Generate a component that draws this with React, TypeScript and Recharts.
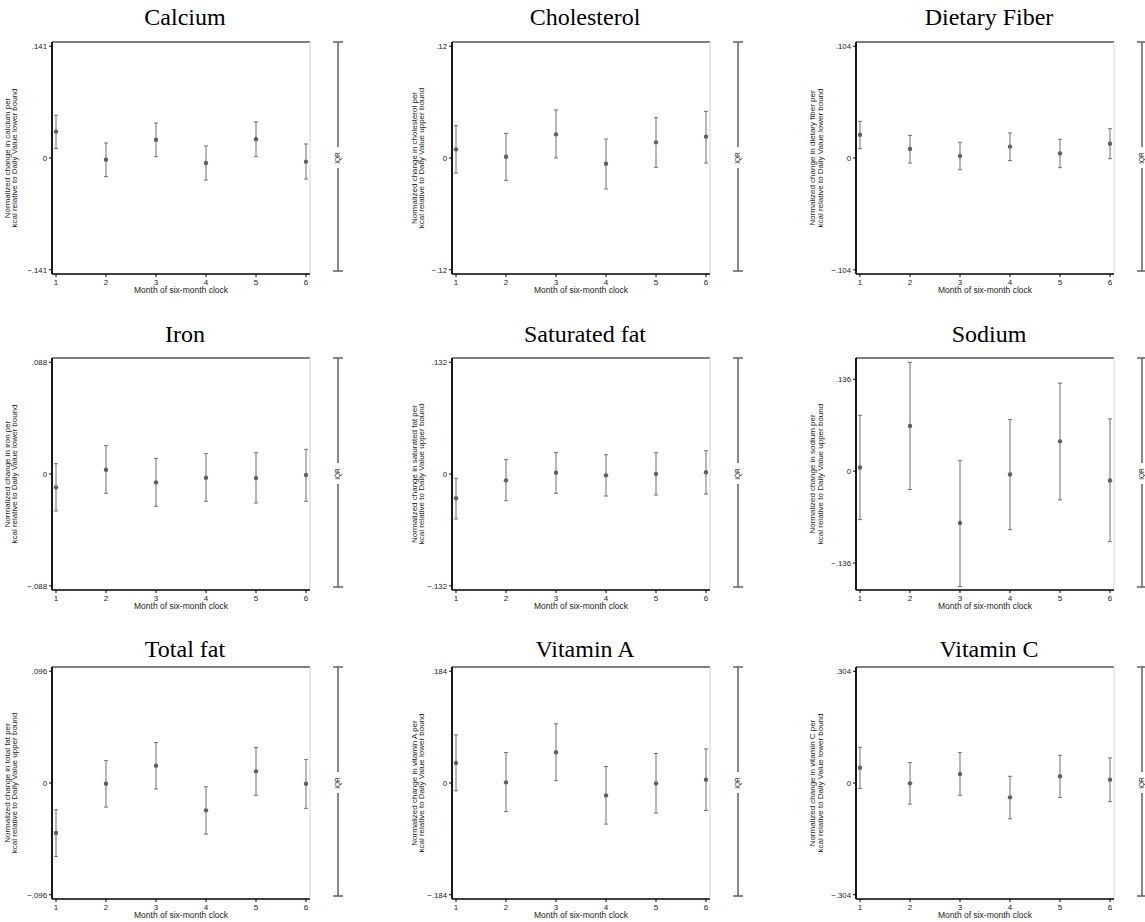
import { ScatterChart, Scatter, ErrorBar, XAxis, YAxis, ReferenceLine, Label } from 'recharts'

const MONTHS = [1, 2, 3, 4, 5, 6]

const TITLES = ['Calcium', 'Cholesterol', 'Dietary Fiber', 'Iron', 'Saturated fat', 'Sodium', 'Total fat', 'Vitamin A', 'Vitamin C']
const NUTRIENT_WORDS = ['calcium', 'cholesterol', 'dietary fiber', 'iron', 'saturated fat', 'sodium', 'total fat', 'vitamin A', 'vitamin C']
const BOUNDS = ['lower', 'upper', 'lower', 'lower', 'upper', 'upper', 'upper', 'lower', 'lower']
const TICK_MAX = [0.141, 0.12, 0.104, 0.088, 0.132, 0.136, 0.096, 0.184, 0.304]

const CALCIUM_EST = [0.0333, -0.0021, 0.0231, -0.0063, 0.0236, -0.0046]
const CALCIUM_LO = [0.0122, -0.0236, 0.0017, -0.0278, 0.0017, -0.0265]
const CALCIUM_HI = [0.0539, 0.0189, 0.0442, 0.0152, 0.0455, 0.0177]

const CHOLESTEROL_EST = [0.0093, 0.0014, 0.0254, -0.0061, 0.0168, 0.0229]
const CHOLESTEROL_LO = [-0.0161, -0.024, 0.0, -0.0333, -0.01, -0.0054]
const CHOLESTEROL_HI = [0.0347, 0.0265, 0.0516, 0.0204, 0.0433, 0.0501]

const FIBER_EST = [0.0217, 0.0084, 0.0019, 0.0106, 0.0043, 0.0133]
const FIBER_LO = [0.0087, -0.0047, -0.0109, -0.0025, -0.009, -0.0006]
const FIBER_HI = [0.0341, 0.0211, 0.0146, 0.0233, 0.0174, 0.0273]

const IRON_EST = [-0.0105, 0.0034, -0.0066, -0.0029, -0.0031, -0.0008]
const IRON_LO = [-0.0291, -0.0152, -0.0254, -0.0215, -0.0228, -0.0215]
const IRON_HI = [0.0081, 0.0223, 0.0123, 0.016, 0.0168, 0.0194]

const SATFAT_EST = [-0.0287, -0.0075, 0.0016, -0.0016, 0.0, 0.002]
const SATFAT_LO = [-0.0531, -0.0315, -0.0228, -0.026, -0.0248, -0.0236]
const SATFAT_HI = [-0.0051, 0.0169, 0.0252, 0.0228, 0.0252, 0.0275]

const SODIUM_EST = [0.0054, 0.0669, -0.0768, -0.005, 0.0441, -0.0139]
const SODIUM_LO = [-0.0718, -0.0272, -0.1709, -0.0867, -0.0426, -0.1045]
const SODIUM_HI = [0.0827, 0.161, 0.0159, 0.0763, 0.1303, 0.0773]

const TOTFAT_EST = [-0.043, -0.0006, 0.0149, -0.0235, 0.01, -0.0006]
const TOTFAT_LO = [-0.0631, -0.0207, -0.0052, -0.0439, -0.0106, -0.0218]
const TOTFAT_HI = [-0.023, 0.0192, 0.0347, -0.0032, 0.0304, 0.0201]

const VITA_EST = [0.033, 0.0011, 0.0506, -0.0204, -0.0006, 0.0055]
const VITA_LO = [-0.0127, -0.0473, 0.0039, -0.0677, -0.0495, -0.0451]
const VITA_HI = [0.0792, 0.0501, 0.0974, 0.027, 0.0484, 0.0561]

const VITC_EST = [0.0418, -0.0009, 0.0245, -0.0391, 0.0182, 0.0091]
const VITC_LO = [-0.0145, -0.0573, -0.0336, -0.0972, -0.0391, -0.0509]
const VITC_HI = [0.0972, 0.0554, 0.0827, 0.0182, 0.0754, 0.0682]

const SERIES = [
  [CALCIUM_EST, CALCIUM_LO, CALCIUM_HI],
  [CHOLESTEROL_EST, CHOLESTEROL_LO, CHOLESTEROL_HI],
  [FIBER_EST, FIBER_LO, FIBER_HI],
  [IRON_EST, IRON_LO, IRON_HI],
  [SATFAT_EST, SATFAT_LO, SATFAT_HI],
  [SODIUM_EST, SODIUM_LO, SODIUM_HI],
  [TOTFAT_EST, TOTFAT_LO, TOTFAT_HI],
  [VITA_EST, VITA_LO, VITA_HI],
  [VITC_EST, VITC_LO, VITC_HI],
]

// layout (px)
const COL_PLOT_LEFT = [52, 452, 856]
const ROW_PLOT_TOP = [42, 358, 667]
const TITLE_BASE = [25, 342, 657]
const YLAB_OFF = [[-42.5, -35], [-35.5, -28], [-41, -33.5]]
const PLOT_W = 258
const PLOT_H = 232
const YAX_W = 52
const XAX_H = 26
const M = { top: 4, right: 4, bottom: 0, left: 0 }

const SANS = '"Liberation Sans", Arial, Helvetica, sans-serif'
const SERIF = '"Liberation Serif", "Times New Roman", serif'

const fmtTick = (v: number) => {
  if (v === 0) return '0'
  const s = Math.abs(v).toString().replace(/^0/, '')
  return (v < 0 ? '\u2212' : '') + s
}

const Dot = (p: any) => <circle cx={p.cx} cy={p.cy} r={2.2} fill="#606060" />

const Panel = ({ idx }: { idx: number }) => {
  const col = idx % 3
  const row = Math.floor(idx / 3)
  const [est, lo, hi] = SERIES[idx]
  const m = TICK_MAX[idx]
  const data = MONTHS.map((x, i) => ({ x, y: est[i], err: [est[i] - lo[i], hi[i] - est[i]] }))
  const domain: [number, number] = idx === 5 ? [-0.176, 0.1675] : [-m * 1.038, m * 1.038]
  const plotLeft = COL_PLOT_LEFT[col]
  const plotTop = ROW_PLOT_TOP[row]
  const lines = [`Normalized change in ${NUTRIENT_WORDS[idx]} per`, `kcal relative to Daily Value ${BOUNDS[idx]} bound`]
  const offs = YLAB_OFF[col]

  const yLabel = (props: any) => {
    const vb = props.viewBox || { x: 0, y: M.top, width: YAX_W, height: PLOT_H }
    const px = vb.x + vb.width
    const cy = vb.y + vb.height / 2
    return (
      <g>
        {lines.map((t, i) => (
          <text key={i} x={px + offs[i]} y={cy} transform={`rotate(-90 ${px + offs[i]} ${cy})`} textAnchor="middle" fontSize={8} fill="#222" fontFamily={SANS}>
            {t}
          </text>
        ))}
      </g>
    )
  }
  const xLabel = (props: any) => {
    const vb = props.viewBox || { x: YAX_W, y: M.top + PLOT_H, width: PLOT_W, height: XAX_H }
    return (
      <text x={vb.x + vb.width / 2} y={vb.y + 19} textAnchor="middle" fontSize={8.5} fill="#222" fontFamily={SANS}>
        Month of six-month clock
      </text>
    )
  }

  const iqrX = plotLeft + PLOT_W + 28
  const gapTop = PLOT_H / 2 - 11
  const gapBot = PLOT_H / 2 + 10

  return (
    <>
      <div style={{ position: 'absolute', left: plotLeft + PLOT_W / 2 + 4, top: TITLE_BASE[row] - 20, transform: 'translateX(-50%)', fontFamily: SERIF, fontSize: 24, lineHeight: '24px', whiteSpace: 'nowrap', color: '#000' }}>
        {TITLES[idx]}
      </div>
      <div style={{ position: 'absolute', left: plotLeft - YAX_W, top: plotTop - M.top }}>
        <ScatterChart width={YAX_W + PLOT_W + M.right} height={M.top + PLOT_H + XAX_H} margin={M}>
          <XAxis type="number" dataKey="x" domain={[0.92, 6.08]} ticks={MONTHS} allowDataOverflow height={XAX_H} tickSize={3} tickMargin={2}
            axisLine={{ stroke: '#000', strokeWidth: 1.4 }} tickLine={{ stroke: '#000' }}
            tick={{ fontSize: 8, fill: '#222', fontFamily: SANS }}>
            <Label content={xLabel} />
          </XAxis>
          <YAxis type="number" dataKey="y" domain={domain} ticks={[-m, 0, m]} allowDataOverflow width={YAX_W} tickSize={3} tickMargin={2}
            tickFormatter={fmtTick} axisLine={{ stroke: '#000', strokeWidth: 1.8 }} tickLine={{ stroke: '#000' }}
            tick={{ fontSize: 7.8, fill: '#222', fontFamily: SANS }}>
            <Label content={yLabel} />
          </YAxis>
          <ReferenceLine y={domain[1]} stroke="#000" strokeWidth={1.2} />
          <ReferenceLine x={6.08} stroke="#d4d4d4" strokeWidth={1} />
          <Scatter data={data} shape={Dot} isAnimationActive={false}>
            <ErrorBar dataKey="err" direction="y" width={2} stroke="#707070" strokeWidth={1} isAnimationActive={false} />
          </Scatter>
        </ScatterChart>
      </div>
      <svg style={{ position: 'absolute', left: iqrX - 8, top: plotTop - 1 }} width={16} height={PLOT_H + 2}>
        <g stroke="#606060" strokeWidth={1.5}>
          <line x1={8} x2={8} y1={1} y2={1 + gapTop} />
          <line x1={8} x2={8} y1={1 + gapBot} y2={PLOT_H - 2} />
          <line x1={3} x2={13} y1={1} y2={1} />
          <line x1={3} x2={13} y1={PLOT_H - 2} y2={PLOT_H - 2} />
        </g>
        <text x={10} y={1 + PLOT_H / 2} transform={`rotate(-90 10 ${1 + PLOT_H / 2})`} textAnchor="middle" fontSize={6.5} fill="#222" fontFamily={SANS}>
          IQR
        </text>
      </svg>
    </>
  )
}

export default function App() {
  return (
    <div style={{ position: 'absolute', left: 0, top: 0, width: 1145, height: 922, background: '#fff', overflow: 'hidden' }}>
      {TITLES.map((_t, i) => (
        <Panel key={i} idx={i} />
      ))}
    </div>
  )
}
